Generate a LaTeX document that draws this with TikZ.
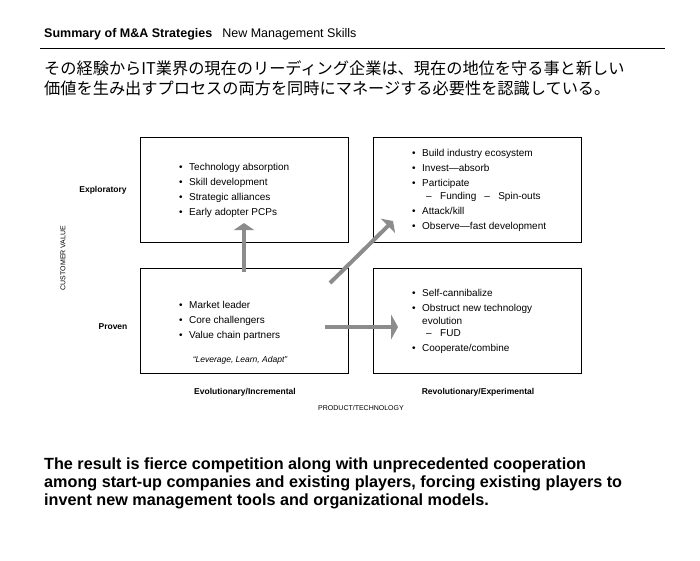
\documentclass[tikz,border=0pt]{standalone}
\usepackage{fontspec}
\setmainfont{Liberation Sans}
\newfontfamily\jpfont{Noto Sans CJK JP}
\usetikzlibrary{arrows.meta}
\definecolor{arrowgray}{RGB}{140,140,140}

\newcommand{\itm}[1]{\makebox[10pt][l]{\textbullet}#1}
\newcommand{\cnt}{\hspace*{10pt}}
\newcommand{\sbi}[1]{\hspace*{4pt}\makebox[14pt][l]{--}#1}

\tikzset{
    quad/.style={draw=black, line width=0.9pt, minimum width=208pt, minimum height=105pt, inner sep=0pt},
    boxtext/.style={anchor=north west, align=left, inner sep=0pt, font=\fontsize{10}{15}\selectfont},
    axislabel/.style={font=\fontsize{7}{8}\selectfont},
    rowlabel/.style={font=\bfseries\fontsize{8.5}{10}\selectfont},
    bigarrow/.style={draw=arrowgray, line width=4pt, -{Triangle[width=#1,length=7pt]}},
    bigarrow/.default=20pt
}

\begin{document}
\begin{tikzpicture}[x=1pt, y=-1pt]
    \useasboundingbox (0,0) rectangle (700,560);
    % Title
    \node[anchor=base west, inner sep=0pt, font=\fontsize{12.5}{14}\selectfont] (title) at (44,37)
        {\textbf{Summary of M\&A Strategies}\hspace{10pt}New Management Skills};
    \draw[line width=0.8pt] (40,48) -- (665,48);
    % Japanese lead text
    \node[anchor=north west, align=left, inner sep=0pt, font=\jpfont\fontsize{16.2}{20.5}\selectfont] (lead) at (44,60)
        {その経験からIT業界の現在のリーディング企業は、現在の地位を守る事と新しい\\
         価値を生み出すプロセスの両方を同時にマネージする必要性を認識している。};

    % Quadrants
    \node[quad] (explevo) at (244,189.5) {};
    \node[quad] (exprevo) at (477.5,189.5) {};
    \node[quad] (proevo) at (244,320.5) {};
    \node[quad] (prorevo) at (477.5,320.5) {};

    % Quadrant contents
    \node[boxtext] (t1) at (179,163)
        {\itm{Technology absorption}\\ \itm{Skill development}\\ \itm{Strategic alliances}\\ \itm{Early adopter PCPs}};
    \node[boxtext] (t2) at (412,149)
        {\itm{Build industry ecosystem}\\ \itm{Invest---absorb}\\ \itm{Participate}\\[-2pt]
         \cnt\sbi{Funding}\hspace{4pt}\sbi{Spin-outs}\\ \itm{Attack/kill}\\ \itm{Observe---fast development}};
    \node[boxtext] (t3) at (179,301)
        {\itm{Market leader}\\ \itm{Core challengers}\\ \itm{Value chain partners}};
    \node[anchor=center, font=\itshape\fontsize{8.5}{10}\selectfont] (motto) at (240,360) {``Leverage, Learn, Adapt''};
    \node[boxtext] (t4) at (412,289)
        {\itm{Self-cannibalize}\\ \itm{Obstruct new technology}\\[-2pt] \cnt evolution\\[-3pt]
         \cnt\sbi{FUD}\\ \itm{Cooperate/combine}};

    % Axis labels
    \node[rowlabel] (lexp) at (103,190) {Exploratory};
    \node[rowlabel] (lpro) at (113,327) {Proven};
    \node[axislabel, rotate=90] (lcv) at (63,258) {CUSTOMER VALUE};
    \node[rowlabel] (levo) at (245,392) {Evolutionary/Incremental};
    \node[rowlabel] (lrev) at (478,392) {Revolutionary/Experimental};
    \node[axislabel] (lpt) at (361,408) {PRODUCT/TECHNOLOGY};

    % Arrows
    \coordinate (upS) at (244,272);
    \coordinate (upE) at (244,223);
    \coordinate (diS) at (330,283);
    \coordinate (diE) at (393,221);
    \coordinate (hoS) at (325,327);
    \coordinate (hoE) at (398,327);
    \draw[bigarrow] (upS) -- (upE);
    \draw[bigarrow] (diS) -- (diE);
    \draw[bigarrow=25pt] (hoS) -- (hoE);

    % Conclusion
    \node[anchor=north west, align=left, inner sep=0pt, font=\bfseries\fontsize{16.2}{18}\selectfont] (result) at (44,458)
        {The result is fierce competition along with unprecedented cooperation\\
         among start-up companies and existing players, forcing existing players to\\
         invent new management tools and organizational models.};
\end{tikzpicture}
\end{document}
